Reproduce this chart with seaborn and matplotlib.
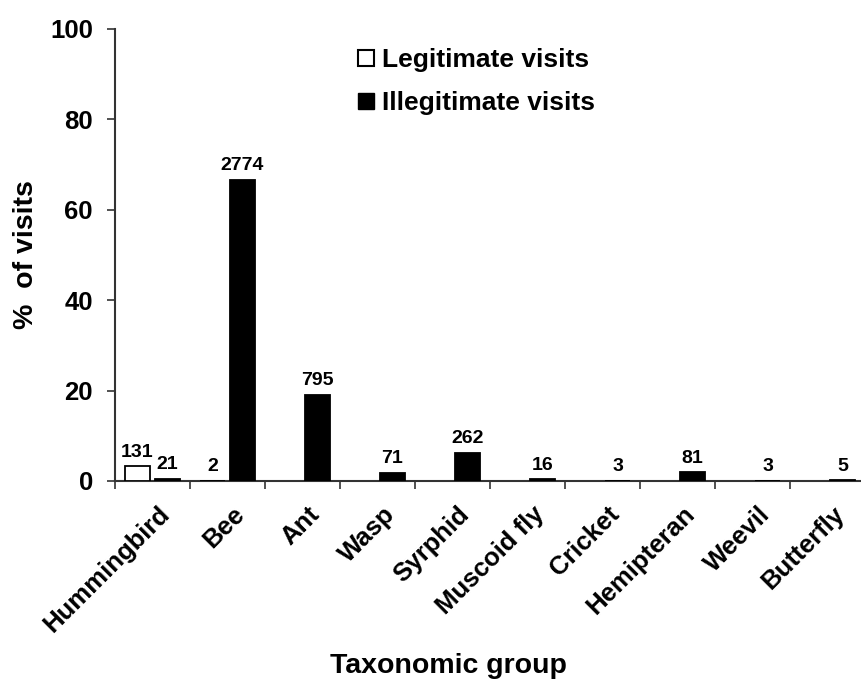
import matplotlib
matplotlib.use("Agg")
import matplotlib.pyplot as plt
import matplotlib.transforms as mtransforms
import seaborn as sns
import pandas as pd
import numpy as np
from matplotlib.lines import Line2D

groups = ["Hummingbird", "Bee", "Ant", "Wasp", "Syrphid", "Muscoid fly",
          "Cricket", "Hemipteran", "Weevil", "Butterfly"]
legit_groups = ["Hummingbird", "Bee"]
legit_pct = [3.3, 0.05]
legit_counts = [131, 2]
illegit_pct = [0.5, 66.6, 19.1, 1.8, 6.3, 0.38, 0.07, 1.95, 0.07, 0.12]
illegit_counts = [21, 2774, 795, 71, 262, 16, 3, 81, 3, 5]

rows = []
for g, v in zip(legit_groups, legit_pct):
    rows.append({"group": g, "type": "Legitimate visits", "pct": v})
for g, v in zip(groups, illegit_pct):
    rows.append({"group": g, "type": "Illegitimate visits", "pct": v})
df = pd.DataFrame(rows)

sns.set_theme(style="white")
plt.rcParams['font.family'] = ['Liberation Sans', 'DejaVu Sans']
plt.rcParams['font.weight'] = 'bold'
plt.rcParams['text.color'] = 'black'
plt.rcParams['axes.labelcolor'] = 'black'
plt.rcParams['xtick.color'] = 'black'
plt.rcParams['ytick.color'] = 'black'

W, H = 861, 682
fig = plt.figure(figsize=(W/100, H/100), dpi=100)
ax = fig.add_axes([115/W, (H-481)/H, 750/W, 452/H])

sns.barplot(data=df, x="group", y="pct", hue="type", order=groups,
            hue_order=["Legitimate visits", "Illegitimate visits"],
            palette=["white", "black"], edgecolor="black", linewidth=1.3,
            width=0.8, gap=0.15, ax=ax, legend=False, zorder=3)

ax.bar_label(ax.containers[0], labels=[str(c) for c in legit_counts],
             padding=4, fontsize=14, fontweight='bold', color='black')
ax.bar_label(ax.containers[1], labels=[str(c) for c in illegit_counts],
             padding=4, fontsize=14, fontweight='bold', color='black')

ax.set_xlim(-0.5, 9.5)
ax.set_ylim(0, 100)
ax.set_yticks([0, 20, 40, 60, 80, 100])
ax.tick_params(axis='y', labelsize=18.5, direction='out', length=6, width=1.2,
               left=True, pad=10, color="#333333", labelcolor='black')
ax.set_xticks(range(len(groups)))
ax.set_xticks(np.arange(-0.5, 9.6, 1.0), minor=True)
ax.tick_params(axis='x', which='major', length=0, pad=15, labelcolor='black')
ax.tick_params(axis='x', which='minor', length=6, width=1.2, direction='out',
               bottom=True, color="#333333")
ax.set_xticklabels(groups, rotation=45, ha='right', rotation_mode='anchor',
                   fontsize=18.5, fontweight='bold')
shift = mtransforms.ScaledTranslation(5/100, 0, fig.dpi_scale_trans)
for lab in ax.get_xticklabels():
    lab.set_transform(lab.get_transform() + shift)
for lab in ax.get_yticklabels():
    lab.set_fontweight('bold')

for s in ["top", "right"]:
    ax.spines[s].set_visible(False)
for s in ["left", "bottom"]:
    ax.spines[s].set_color("#333333")
    ax.spines[s].set_linewidth(1.5)
    ax.spines[s].set_zorder(2)

ax.set_ylabel("%  of visits", fontsize=20.5, fontweight='bold', color='black')
ax.yaxis.set_label_coords(-0.101, 0.5)
ax.set_xlabel("Taxonomic group", fontsize=20.5, fontweight='bold', color='black')
ax.xaxis.set_label_coords(0.444, -0.381)

handles = [Line2D([], [], marker='s', linestyle='none', markersize=12,
                  markerfacecolor='white', markeredgecolor='black', markeredgewidth=1.5),
           Line2D([], [], marker='s', linestyle='none', markersize=12,
                  markerfacecolor='black', markeredgecolor='black')]
leg = ax.legend(handles, ["Legitimate visits", "Illegitimate visits"],
                loc='upper left', bbox_to_anchor=(357/W, 1 - 48/H),
                bbox_transform=fig.transFigure, frameon=False,
                prop={'size': 19, 'weight': 'bold'}, handletextpad=0.25,
                labelspacing=0.72, handlelength=0.7, borderaxespad=0,
                borderpad=0)
for t in leg.get_texts():
    t.set_color('black')

fig.savefig("out.png", dpi=100)
